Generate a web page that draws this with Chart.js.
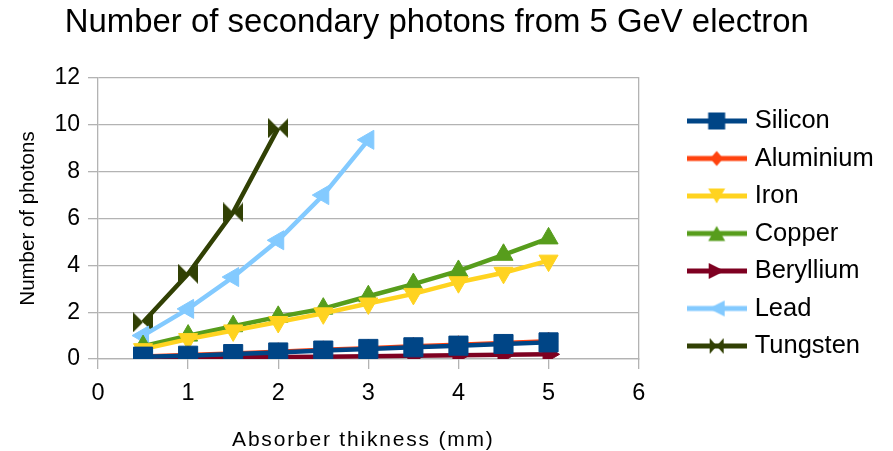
<!DOCTYPE html>
<html>
<head>
<meta charset="utf-8">
<script src="https://cdn.jsdelivr.net/npm/chart.js@4/dist/chart.umd.min.js"></script>
<style>
  html, body { margin: 0; padding: 0; background: #ffffff; }
  canvas { display: block; }
</style>
</head>
<body>
<canvas id="chart" width="893" height="451"></canvas>
<script>
// Text
const chartTitle = 'Number of secondary photons from 5 GeV electron';
const xAxisTitle = 'Absorber thikness (mm)';
const yAxisTitle = 'Number of photons';

// Axis ticks
const xTicks = [0, 1, 2, 3, 4, 5, 6];
const yTicks = [0, 2, 4, 6, 8, 10, 12];

// Absorber thickness (mm)
const thickness = [0.5, 1, 1.5, 2, 2.5, 3, 3.5, 4, 4.5, 5];

// Mean number of secondary photons per material
const silicon   = [0.10, 0.14, 0.21, 0.28, 0.36, 0.43, 0.50, 0.57, 0.64, 0.71];
const aluminium = [0.11, 0.17, 0.24, 0.31, 0.39, 0.46, 0.54, 0.61, 0.68, 0.76];
const iron      = [0.42, 0.85, 1.22, 1.58, 1.95, 2.37, 2.78, 3.28, 3.68, 4.20];
const copper    = [0.55, 1.00, 1.40, 1.80, 2.15, 2.68, 3.20, 3.76, 4.45, 5.15];
const beryllium = [0.03, 0.05, 0.07, 0.09, 0.10, 0.12, 0.14, 0.16, 0.18, 0.20];
const lead      = [1.00, 2.14, 3.50, 5.07, 7.00, 9.36];
const tungsten  = [1.57, 3.64, 6.26, 9.86];

const materials = ['Silicon', 'Aluminium', 'Iron', 'Copper', 'Beryllium', 'Lead', 'Tungsten'];
const seriesValues = [silicon, aluminium, iron, copper, beryllium, lead, tungsten];

// Styling
const colors  = ['#004586', '#ff420e', '#ffd320', '#579d1c', '#7e0021', '#83caff', '#314004'];
const markers = ['square', 'diamond', 'down', 'up', 'right', 'left', 'bowtie'];
const gridColor = '#b3b3b3';
const FONT = "'Liberation Sans', Arial, sans-serif";
Chart.defaults.font.family = FONT;
Chart.defaults.color = '#000000';

// Marker shape drawn on a 2D context, centred on (cx, cy), w x h box
function drawShape(ctx, kind, cx, cy, w, h) {
  ctx.beginPath();
  if (kind === 'square') {
    ctx.rect(cx - w / 2, cy - h / 2, w, h);
  } else if (kind === 'diamond') {
    ctx.moveTo(cx, cy - h / 2); ctx.lineTo(cx + w / 2, cy);
    ctx.lineTo(cx, cy + h / 2); ctx.lineTo(cx - w / 2, cy);
  } else if (kind === 'up') {
    ctx.moveTo(cx, cy - h / 2); ctx.lineTo(cx + w / 2, cy + h / 2); ctx.lineTo(cx - w / 2, cy + h / 2);
  } else if (kind === 'down') {
    ctx.moveTo(cx, cy + h / 2); ctx.lineTo(cx + w / 2, cy - h / 2); ctx.lineTo(cx - w / 2, cy - h / 2);
  } else if (kind === 'right') {
    ctx.moveTo(cx + w / 2, cy); ctx.lineTo(cx - w / 2, cy - h / 2); ctx.lineTo(cx - w / 2, cy + h / 2);
  } else if (kind === 'left') {
    ctx.moveTo(cx - w / 2, cy); ctx.lineTo(cx + w / 2, cy - h / 2); ctx.lineTo(cx + w / 2, cy + h / 2);
  } else if (kind === 'bowtie') {
    ctx.moveTo(cx - w / 2, cy - h / 2); ctx.lineTo(cx, cy); ctx.lineTo(cx - w / 2, cy + h / 2); ctx.closePath();
    ctx.moveTo(cx + w / 2, cy - h / 2); ctx.lineTo(cx, cy); ctx.lineTo(cx + w / 2, cy + h / 2);
  }
  ctx.closePath();
  ctx.fill();
}

// Bow-tie point image for the tungsten series
function bowtieImage(color, size) {
  const c = document.createElement('canvas');
  c.width = size; c.height = size;
  const g = c.getContext('2d');
  g.fillStyle = color;
  drawShape(g, 'bowtie', size / 2, size / 2, size, size);
  return c;
}

// Legend key: a short line segment with the marker in the middle
function legendIcon(color, kind) {
  const c = document.createElement('canvas');
  c.width = 60; c.height = 24;
  const g = c.getContext('2d');
  g.strokeStyle = color; g.lineWidth = 5;
  g.beginPath(); g.moveTo(0, 12); g.lineTo(60, 12); g.stroke();
  g.fillStyle = color;
  const sizes = { square: [17, 17], diamond: [13, 15], up: [17, 15], down: [17, 15],
                  right: [16, 16], left: [16, 16], bowtie: [14, 16] };
  const [w, h] = sizes[kind];
  drawShape(g, kind, 30, 12, w, h);
  return c;
}

function pointOptions(kind, color) {
  switch (kind) {
    case 'square':  return { pointStyle: 'rect', pointRadius: 13.5, pointRotation: 0 };
    case 'diamond': return { pointStyle: 'rectRot', pointRadius: 9, pointRotation: 0 };
    case 'up':      return { pointStyle: 'triangle', pointRadius: 11, pointRotation: 0 };
    case 'down':    return { pointStyle: 'triangle', pointRadius: 11, pointRotation: 180 };
    case 'right':   return { pointStyle: 'triangle', pointRadius: 11, pointRotation: 90 };
    case 'left':    return { pointStyle: 'triangle', pointRadius: 11, pointRotation: 270 };
    case 'bowtie':  return { pointStyle: bowtieImage(color, 20), pointRadius: 10, pointRotation: 0 };
  }
}

const datasets = materials.map((name, i) => Object.assign({
  label: name,
  data: seriesValues[i].map((v, j) => ({ x: thickness[j], y: v })),
  borderColor: colors[i],
  backgroundColor: colors[i],
  pointBackgroundColor: colors[i],
  pointBorderColor: colors[i],
  pointBorderWidth: 1,
  borderWidth: 4.5,
  tension: 0,
  fill: false
}, pointOptions(markers[i], colors[i])));

const legendIcons = materials.map((_, i) => legendIcon(colors[i], markers[i]));

// Horizontal axis title, drawn with a little letter spacing
const xTitlePlugin = {
  id: 'xTitle',
  afterDraw(chart) {
    const { ctx, chartArea } = chart;
    ctx.save();
    ctx.font = '21px ' + FONT;
    if ('letterSpacing' in ctx) ctx.letterSpacing = '1.8px';
    ctx.fillStyle = '#000000';
    ctx.textAlign = 'center';
    ctx.textBaseline = 'middle';
    ctx.fillText(xAxisTitle, (chartArea.left + chartArea.right) / 2 - 5, chart.height - 11);
    ctx.restore();
  }
};

new Chart(document.getElementById('chart'), {
  type: 'line',
  data: { datasets },
  plugins: [xTitlePlugin],
  options: {
    responsive: false,
    animation: false,
    devicePixelRatio: 1,
    layout: { padding: { top: 16, right: 9.3, bottom: 0, left: -10 } },
    plugins: {
      title: {
        display: true,
        text: chartTitle,
        color: '#000000',
        font: { size: 32.9, weight: 'normal', lineHeight: '14px' },
        padding: { top: 0.3, bottom: 47.7 }
      },
      legend: {
        display: true,
        position: 'right',
        align: 'center',
        maxWidth: 260,
        labels: {
          usePointStyle: true,
          pointStyleWidth: 50.5,
          padding: 12,
          color: '#000000',
          font: { size: 25.5 },
          generateLabels: (chart) => chart.data.datasets.map((ds, i) => ({
            text: ds.label,
            pointStyle: legendIcons[i],
            fillStyle: ds.borderColor,
            strokeStyle: ds.borderColor,
            lineWidth: 0,
            hidden: false,
            datasetIndex: i,
            fontColor: '#000000'
          }))
        }
      },
      tooltip: { enabled: false }
    },
    scales: {
      x: {
        type: 'linear',
        min: xTicks[0],
        max: xTicks[xTicks.length - 1],
        ticks: { stepSize: xTicks[1] - xTicks[0], padding: 10, font: { size: 23.5 }, color: '#000000', maxRotation: 0 },
        grid: { drawOnChartArea: false, color: gridColor, tickColor: gridColor, tickLength: 10, lineWidth: 1.3 },
        border: { display: true, color: gridColor, width: 1.3 },
        afterFit: (scale) => { scale.height = 92; }
      },
      y: {
        type: 'linear',
        min: yTicks[0],
        max: yTicks[yTicks.length - 1],
        ticks: { stepSize: yTicks[1] - yTicks[0], padding: 8, font: { size: 23 }, color: '#000000' },
        grid: { color: gridColor, tickColor: gridColor, tickLength: 10, lineWidth: 1.3 },
        border: { display: true, color: gridColor, width: 1.3 },
        title: { display: true, text: yAxisTitle, color: '#000000', font: { size: 20.5 }, padding: { top: 25.7, bottom: 0 } },
        afterFit: (scale) => { scale.width = 108; }
      },
      frame: {
        type: 'linear',
        position: 'right',
        display: true,
        ticks: { display: false },
        grid: { drawOnChartArea: false, drawTicks: false },
        border: { display: true, color: gridColor, width: 1.3 },
        afterFit: (scale) => { scale.width = 40.75; }
      }
    }
  }
});
</script>
</body>
</html>
